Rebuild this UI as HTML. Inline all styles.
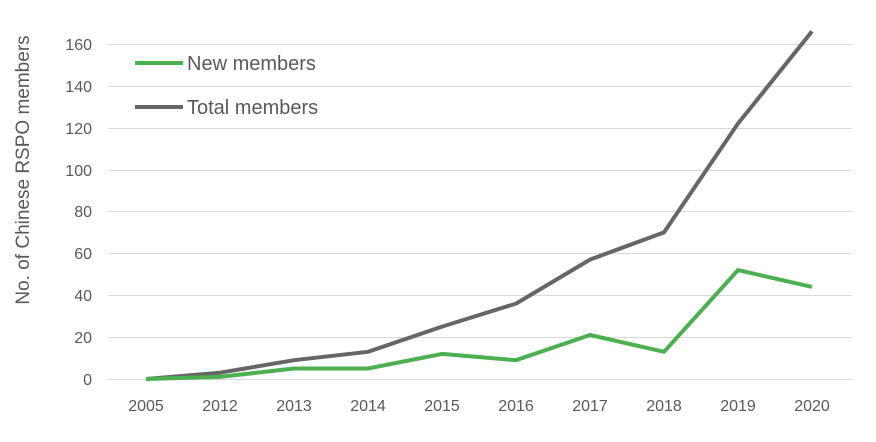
<!DOCTYPE html>
<html><head><meta charset="utf-8"><style>
html,body{margin:0;padding:0;background:#fff;}
svg{display:block;font-family:"Liberation Sans",sans-serif;}
</style></head><body>
<svg width="876" height="442" viewBox="0 0 876 442">
<g stroke="#d9d9d9" stroke-width="1">
<line x1="108" x2="852" y1="44.5" y2="44.5"/>
<line x1="108" x2="852" y1="86.5" y2="86.5"/>
<line x1="108" x2="852" y1="128.5" y2="128.5"/>
<line x1="108" x2="852" y1="170.5" y2="170.5"/>
<line x1="108" x2="852" y1="211.5" y2="211.5"/>
<line x1="108" x2="852" y1="253.5" y2="253.5"/>
<line x1="108" x2="852" y1="295.5" y2="295.5"/>
<line x1="108" x2="852" y1="337.5" y2="337.5"/>
<line x1="108" x2="852" y1="379.5" y2="379.5"/>
</g>
<g fill="#595959" font-size="16" text-anchor="end">
<text x="92" y="50">160</text><text x="92" y="92">140</text><text x="92" y="134">120</text>
<text x="92" y="176">100</text><text x="92" y="217">80</text><text x="92" y="259">60</text>
<text x="92" y="301">40</text><text x="92" y="343">20</text><text x="92" y="385">0</text>
</g>
<g fill="#595959" font-size="16" text-anchor="middle">
<text x="146" y="411">2005</text><text x="220" y="411">2012</text><text x="294" y="411">2013</text>
<text x="368" y="411">2014</text><text x="442" y="411">2015</text><text x="516" y="411">2016</text>
<text x="590" y="411">2017</text><text x="664" y="411">2018</text><text x="738" y="411">2019</text>
<text x="812" y="411">2020</text>
</g>
<text transform="translate(29,170) rotate(-90)" fill="#595959" font-size="19" text-anchor="middle">No. of Chinese RSPO members</text>
<polyline fill="none" stroke="#666" stroke-width="4" stroke-linejoin="round" points="146,379 220,372.7 294,360.2 368,351.8 442,326.6 516,303.6 590,259.6 664,232.4 738,123.5 812,31.4"/>
<polyline fill="none" stroke="#4caf50" stroke-width="4" stroke-linejoin="round" points="146,379 220,376.9 294,368.5 368,368.5 442,353.9 516,360.2 590,335 664,351.8 738,270.1 812,286.9"/>
<line x1="135" x2="183" y1="63" y2="63" stroke="#4caf50" stroke-width="4"/>
<line x1="135" x2="183" y1="107" y2="107" stroke="#666" stroke-width="4"/>
<text x="187" y="70" fill="#595959" font-size="20">New members</text>
<text x="187" y="114" fill="#595959" font-size="20">Total members</text>
</svg>
</body></html>
